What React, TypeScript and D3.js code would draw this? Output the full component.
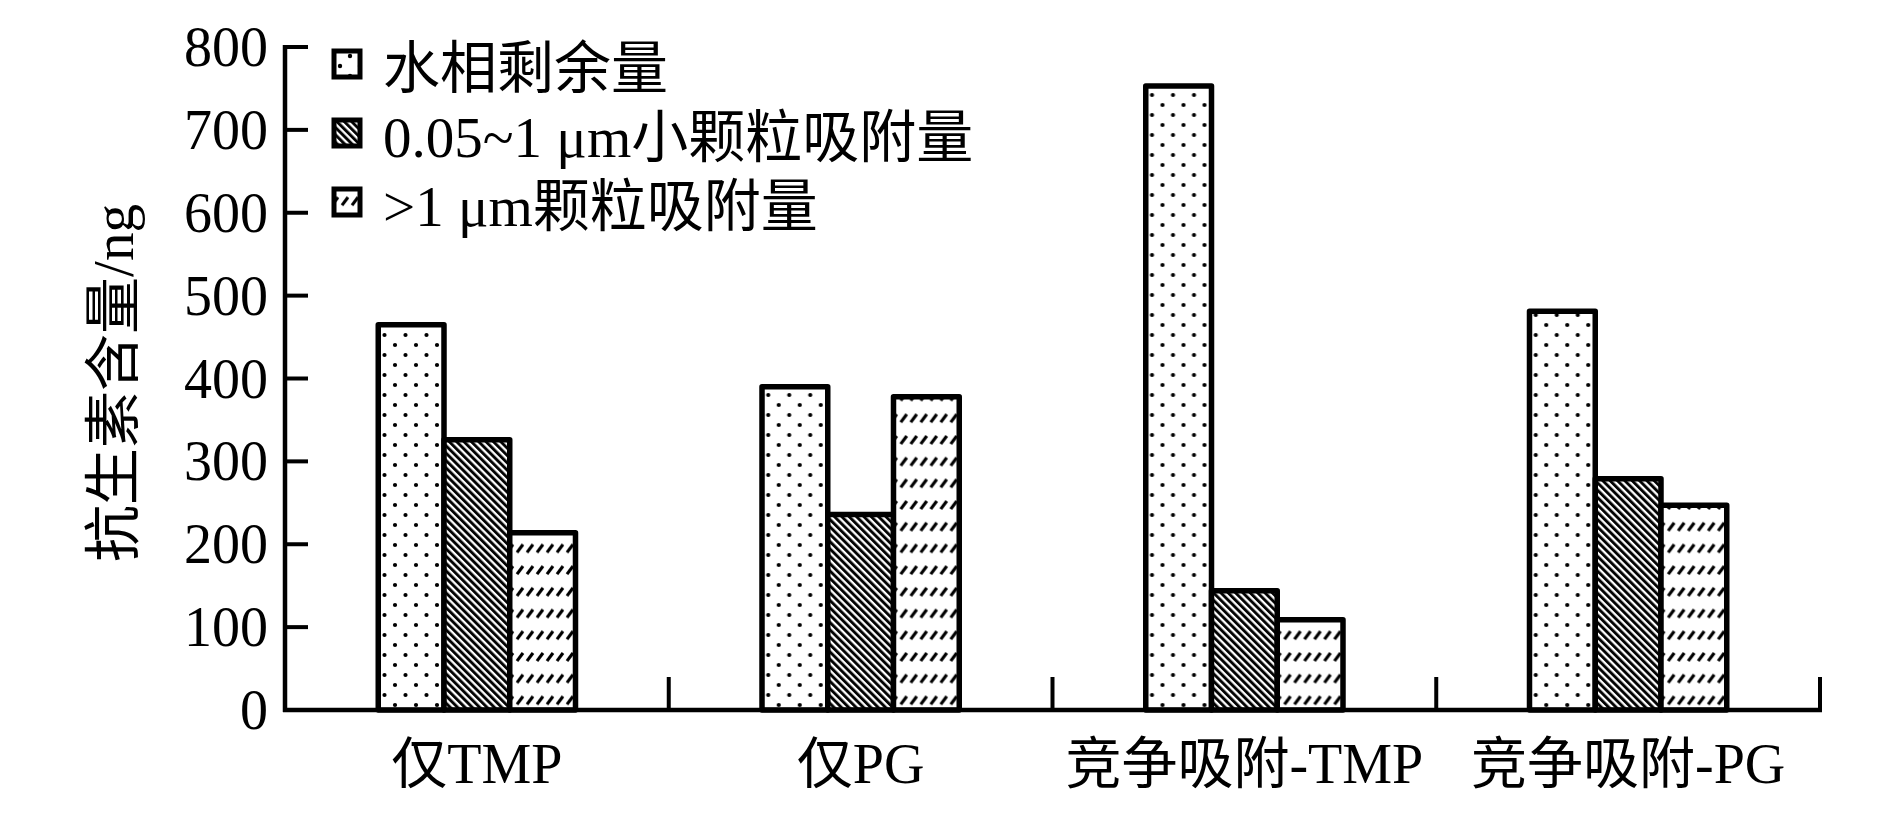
import * as d3 from 'd3';

// data
const categories = ['仅TMP', '仅PG', '竞争吸附-TMP', '竞争吸附-PG'];
const seriesNames = ['水相剩余量', '0.05~1 μm小颗粒吸附量', '>1 μm颗粒吸附量'];
const waterResidual = [465, 390, 753, 481];
const smallParticle = [326, 236, 144, 279];
const largeParticle = [214, 378, 109, 247];
const yTicks = [0, 100, 200, 300, 400, 500, 600, 700, 800];

const W = 1887;
const H = 826;
const FONT = '"Liberation Serif", "Times New Roman", "Noto Sans CJK SC", serif';
const fills = ['url(#dots)', 'url(#hatch)', 'url(#dashes)'];

export default function App() {
	const x0 = d3.scaleBand<string>().domain(categories).range([285, 1820]).padding(0);
	const bw = x0.bandwidth();
	const groupW = bw * 0.514;
	const x1 = d3
		.scaleBand<number>()
		.domain([0, 1, 2])
		.range([(bw - groupW) / 2, (bw + groupW) / 2])
		.padding(0);
	const y = d3.scaleLinear().domain([0, 800]).range([710, 47]);

	const series = [waterResidual, smallParticle, largeParticle];
	const legendY = [64, 133, 202];

	return (
		<svg width={W} height={H} style={{ position: 'absolute', left: 0, top: 0, background: '#fff' }} fontFamily={FONT}>
			<defs>
				<pattern id="dots" patternUnits="userSpaceOnUse" width={21} height={20}>
					<rect width={21} height={20} fill="#fff" />
					<circle cx={5} cy={5} r={2.1} fill="#000" />
					<circle cx={15.5} cy={15} r={2.1} fill="#000" />
				</pattern>
				<pattern id="hatch" patternUnits="userSpaceOnUse" width={5.2} height={10} patternTransform="rotate(-45)">
					<rect width={5.2} height={10} fill="#fff" />
					<line x1={1.5} y1={0} x2={1.5} y2={10} stroke="#000" strokeWidth={2.9} />
				</pattern>
				<pattern id="dashes" patternUnits="userSpaceOnUse" width={10} height={21.7}>
					<rect width={10} height={21.7} fill="#fff" />
					<line x1={2} y1={10} x2={8} y2={2} stroke="#000" strokeWidth={3.2} />
				</pattern>
				<pattern id="dotsSmall" patternUnits="userSpaceOnUse" width={20} height={20} x={336} y={52}>
					<rect width={20} height={20} fill="#fff" />
					<circle cx={14} cy={4} r={2.2} fill="#000" />
					<circle cx={4} cy={14} r={2.2} fill="#000" />
				</pattern>
			</defs>

			{/* bars */}
			{categories.map((c, i) => (
				<g key={c} transform={`translate(${x0(c)},0)`}>
					{series.map((s, j) => (
						<rect
							key={j}
							x={x1(j)}
							y={y(s[i])}
							width={x1.bandwidth()}
							height={y(0) - y(s[i])}
							fill={fills[j]}
							stroke="#000"
							strokeWidth={5.5}
							strokeLinejoin="round"
						/>
					))}
				</g>
			))}

			{/* y axis */}
			<line x1={285} y1={y(800) - 2} x2={285} y2={y(0) + 2} stroke="#000" strokeWidth={4.5} />
			{yTicks.map((t) => (
				<g key={t}>
					{t > 0 && <line x1={285} x2={308} y1={y(t)} y2={y(t)} stroke="#000" strokeWidth={4} />}
					<text x={268} y={y(t)} textAnchor="end" dominantBaseline="central" fontSize={56}>
						{t}
					</text>
				</g>
			))}

			{/* x axis */}
			<line x1={283} y1={y(0)} x2={1822} y2={y(0)} stroke="#000" strokeWidth={4.5} />
			{categories.map((c, i) => {
				const xr = (x0(c) as number) + bw;
				return (
					<g key={c}>
						<line x1={xr} x2={xr} y1={y(0)} y2={y(0) - 33} stroke="#000" strokeWidth={4} />
						<text x={(x0(c) as number) + bw / 2} y={764} textAnchor="middle" dominantBaseline="central" fontSize={56}>
							{c}
						</text>
					</g>
				);
			})}

			{/* y title */}
			<text
				transform="translate(113,383) rotate(-90)"
				textAnchor="middle"
				dominantBaseline="central"
				fontSize={57}
			>
				抗生素含量/ng
			</text>

			{/* legend */}
			{seriesNames.map((n, j) => (
				<g key={n}>
					<rect
						x={334}
						y={legendY[j] - 13}
						width={26}
						height={26}
						fill={j === 0 ? 'url(#dotsSmall)' : fills[j]}
						stroke="#000"
						strokeWidth={5}
					/>
					<text x={383} y={legendY[j] + 4} dominantBaseline="central" fontSize={57}>
						{n}
					</text>
				</g>
			))}
		</svg>
	);
}
